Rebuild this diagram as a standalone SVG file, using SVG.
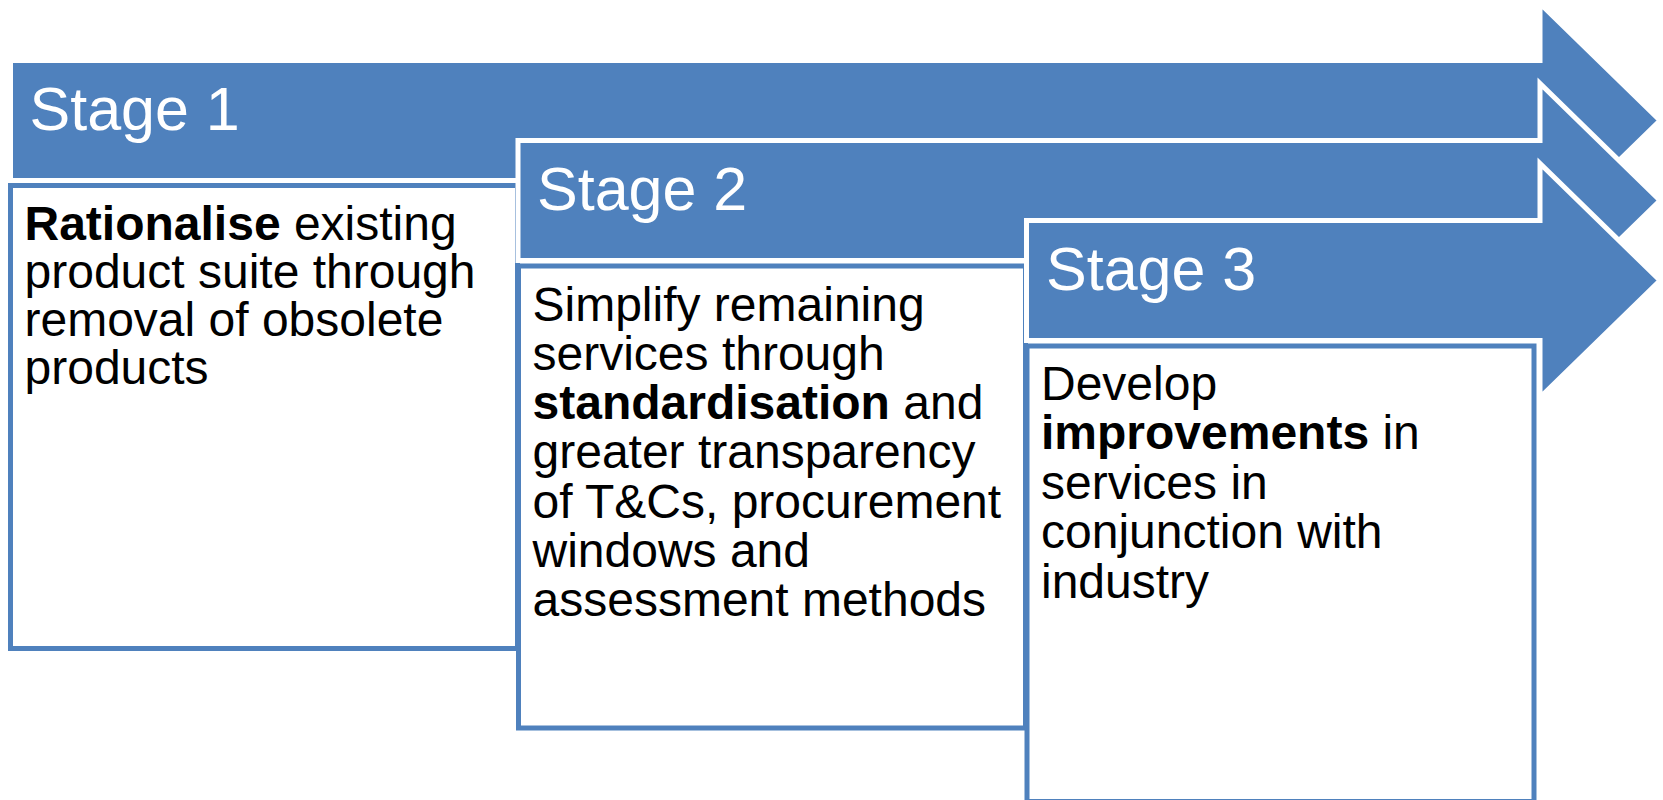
<svg xmlns="http://www.w3.org/2000/svg" width="1663" height="800" viewBox="0 0 1663 800">
  <style>
    .arrow { fill: #4F81BD; stroke: #FFFFFF; stroke-width: 5; stroke-linejoin: miter; }
    .box { fill: #FFFFFF; stroke: #4F81BD; stroke-width: 5; }
    .stage { font-family: "Liberation Sans", Arial, sans-serif; font-size: 61px; fill: #FFFFFF; }
    .body { font-family: "Liberation Sans", Arial, sans-serif; font-size: 48px; fill: #000000; }
    .b { font-weight: bold; }
  </style>
  <rect width="1663" height="800" fill="#FFFFFF"/>

  <!-- Stage 1 -->
  <g id="stage1-arrow">
    <path class="arrow" d="M10.5,60.5 H1540 V3.5 L1660,120.5 L1540,237.5 V180.5 H10.5 Z"/>
    <text class="stage" x="29.5" y="129.5">Stage 1</text>
  </g>
  <g id="stage1-box">
    <rect class="box" x="10.5" y="185.5" width="507" height="463"/>
    <text class="body" x="24.5" y="240"><tspan class="b">Rationalise</tspan> existing</text>
    <text class="body" x="24.5" y="288">product suite through</text>
    <text class="body" x="24.5" y="336">removal of obsolete</text>
    <text class="body" x="24.5" y="384">products</text>
  </g>

  <!-- Stage 2 -->
  <g id="stage2-arrow">
    <path class="arrow" d="M518,140.5 H1540 V83.5 L1660,200.5 L1540,317.5 V260.5 H518 Z"/>
    <text class="stage" x="537" y="209.5">Stage 2</text>
  </g>
  <g id="stage2-box">
    <rect class="box" x="518.5" y="266" width="507" height="462"/>
    <text class="body" x="532.5" y="320.5">Simplify remaining</text>
    <text class="body" x="532.5" y="369.8">services through</text>
    <text class="body" x="532.5" y="419"><tspan class="b">standardisation</tspan> and</text>
    <text class="body" x="532.5" y="468.3">greater transparency</text>
    <text class="body" x="532.5" y="517.5">of T&amp;Cs, procurement</text>
    <text class="body" x="532.5" y="566.8">windows and</text>
    <text class="body" x="532.5" y="616">assessment methods</text>
  </g>

  <!-- Stage 3 -->
  <g id="stage3-arrow">
    <path class="arrow" d="M1026.5,220.5 H1540 V163.5 L1660,280.5 L1540,397.5 V340.5 H1026.5 Z"/>
    <text class="stage" x="1046" y="289.5">Stage 3</text>
  </g>
  <g id="stage3-box">
    <rect class="box" x="1027" y="346" width="507" height="455.5"/>
    <text class="body" x="1041" y="399.5">Develop</text>
    <text class="body" x="1041" y="449"><tspan class="b">improvements</tspan> in</text>
    <text class="body" x="1041" y="498.5">services in</text>
    <text class="body" x="1041" y="548">conjunction with</text>
    <text class="body" x="1041" y="597.5">industry</text>
  </g>

  <!-- no connectors: the stages are chained by their own arrow shapes -->
  <g id="connectors"/>
</svg>
